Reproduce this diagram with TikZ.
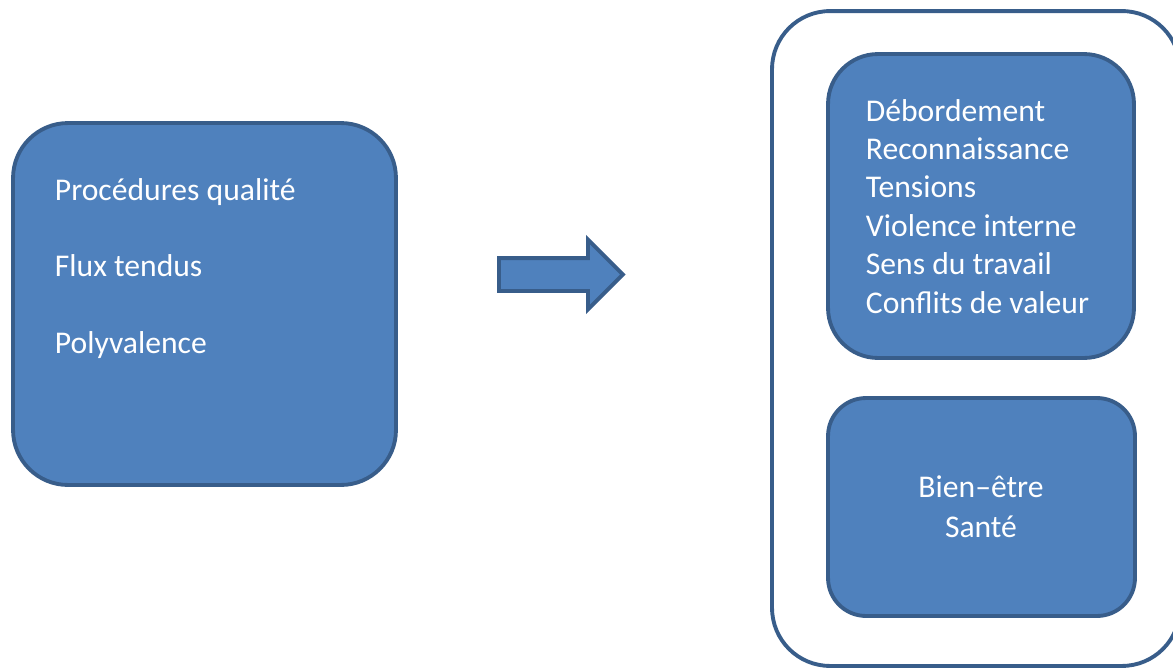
\documentclass[tikz,border=0pt]{standalone}
\usepackage{fontspec}
\setmainfont{Carlito}
\usetikzlibrary{shapes.arrows}
\definecolor{boxfill}{HTML}{4F81BD}
\definecolor{boxline}{HTML}{385D8A}

\begin{document}
\begin{tikzpicture}[
	x=0.02cm, y=-0.02cm,
	line width=2.2pt,
	font=\fontsize{18}{21.8}\selectfont,
	box/.style={
		draw=boxline,
		fill=boxfill,
		rectangle,
		inner sep=0pt
	},
	outerbox/.style={
		draw=boxline,
		fill=white,
		rectangle,
		rounded corners=1.16cm,
		minimum width=8.16cm,
		minimum height=13.1cm
	},
	txt/.style={
		text=white,
		inner sep=0pt,
		anchor=base west
	}
]
\path[use as bounding box, clip] (0,0) rectangle (1173,670);

% left block
\node[box, rounded corners=1.1cm, minimum width=7.66cm, minimum height=7.24cm] (causes) at (204.5,304) {};
\foreach \t [count=\i] in {Procédures qualité, Flux tendus, Polyvalence}
	\node[txt] (cause\i) at (53,{200+76.6*(\i-1)}) {\t};

% arrow
\node[single arrow, draw=boxline, fill=boxfill, inner xsep=0pt, inner ysep=0.29cm,
	minimum height=2.48cm, minimum width=1.32cm,
	single arrow head extend=0.37cm, anchor=tail] (arrow) at (497,274.5) {};

% right block
\node[outerbox] (effects) at (976,338.5) {};
\node[box, rounded corners=1cm, minimum width=6.12cm, minimum height=6.08cm] (risks) at (981,206) {};
\node[box, rounded corners=0.76cm, minimum width=6.14cm, minimum height=4.36cm] (health) at (981.5,507) {};

\foreach \t [count=\i] in {Débordement, Reconnaissance, Tensions, Violence interne, Sens du travail, Conflits de valeur}
	\node[txt] (risk\i) at (864,{121+38.4*(\i-1)}) {\t};

\node[txt, anchor=base] (bien) at (981,497) {Bien–être};
\node[txt, anchor=base] (sante) at (981,537) {Santé};

\end{tikzpicture}
\end{document}
